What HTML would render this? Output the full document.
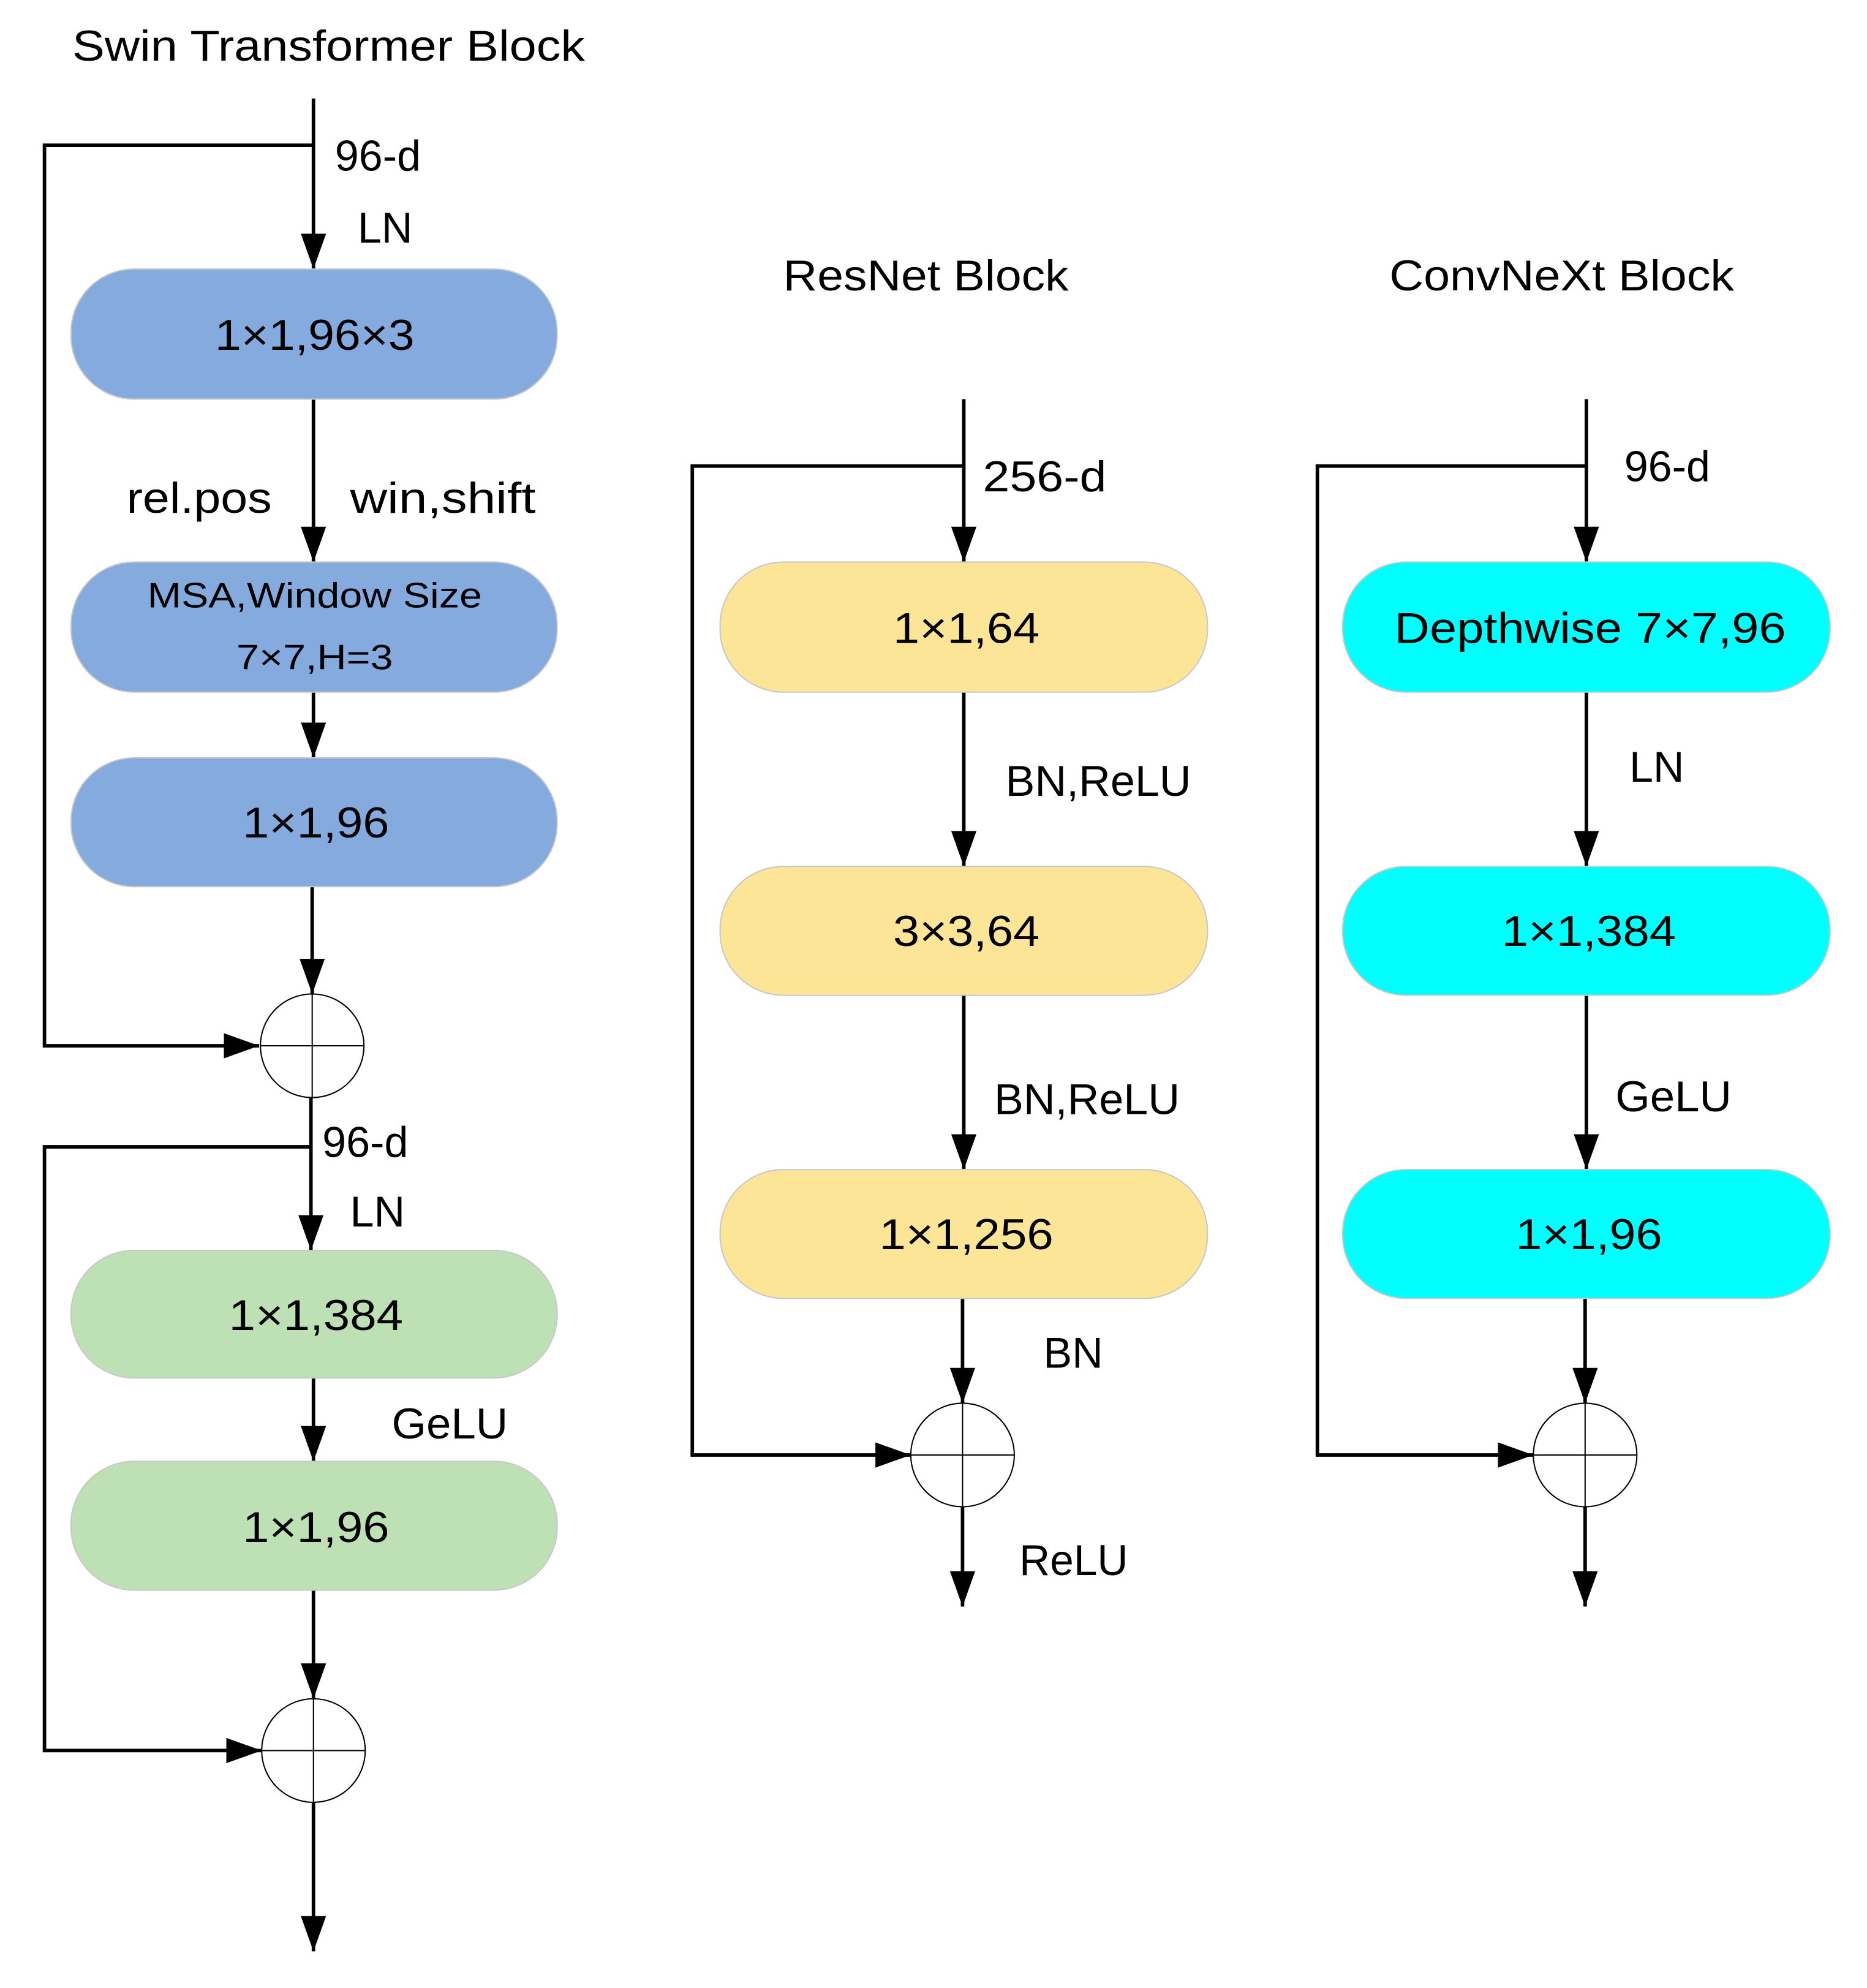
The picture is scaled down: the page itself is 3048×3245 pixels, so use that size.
<!DOCTYPE html>
<html><head><meta charset="utf-8"><style>
html,body{margin:0;padding:0;background:#fff;}
svg{display:block;}
text{font-family:"Liberation Sans",sans-serif;fill:#000;}
</style></head><body>
<svg width="3048" height="3245" viewBox="0 0 1478 1574" xmlns="http://www.w3.org/2000/svg">
<defs>
<marker id="a" markerWidth="28" markerHeight="20" refX="28" refY="10" orient="auto" markerUnits="userSpaceOnUse">
<path d="M0,0 L28,10 L0,20 Z" fill="#000"/></marker>
</defs>
<g stroke="#000" stroke-width="2.8" fill="none">
<line x1="248" y1="78" x2="248" y2="213" marker-end="url(#a)"/>
<polyline points="248,115 35,115 35,828 205,828" marker-end="url(#a)"/>
<line x1="248" y1="316" x2="248" y2="445" marker-end="url(#a)"/>
<line x1="248" y1="548" x2="248" y2="600" marker-end="url(#a)"/>
<line x1="247" y1="702" x2="247" y2="787" marker-end="url(#a)"/>
<line x1="246" y1="869" x2="246" y2="990" marker-end="url(#a)"/>
<polyline points="246,908 35,908 35,1386 207,1386" marker-end="url(#a)"/>
<line x1="248" y1="1091" x2="248" y2="1157" marker-end="url(#a)"/>
<line x1="248" y1="1259" x2="248" y2="1345" marker-end="url(#a)"/>
<line x1="248" y1="1427" x2="248" y2="1545" marker-end="url(#a)"/>
<line x1="763" y1="316" x2="763" y2="445" marker-end="url(#a)"/>
<polyline points="763,369 548,369 548,1152 721,1152" marker-end="url(#a)"/>
<line x1="763" y1="548" x2="763" y2="686" marker-end="url(#a)"/>
<line x1="763" y1="788" x2="763" y2="926" marker-end="url(#a)"/>
<line x1="762" y1="1028" x2="762" y2="1111" marker-end="url(#a)"/>
<line x1="762" y1="1193" x2="762" y2="1272" marker-end="url(#a)"/>
<line x1="1256" y1="316" x2="1256" y2="445" marker-end="url(#a)"/>
<polyline points="1256,369 1043,369 1043,1152 1214,1152" marker-end="url(#a)"/>
<line x1="1256" y1="548" x2="1256" y2="686" marker-end="url(#a)"/>
<line x1="1256" y1="788" x2="1256" y2="926" marker-end="url(#a)"/>
<line x1="1255" y1="1028" x2="1255" y2="1111" marker-end="url(#a)"/>
<line x1="1255" y1="1193" x2="1255" y2="1272" marker-end="url(#a)"/>
</g>
<g stroke="#000" stroke-width="1" fill="none">
<circle cx="247" cy="828" r="41"/><line x1="206" y1="828" x2="288" y2="828"/><line x1="247" y1="787" x2="247" y2="869"/>
<circle cx="248" cy="1386" r="41"/><line x1="207" y1="1386" x2="289" y2="1386"/><line x1="248" y1="1345" x2="248" y2="1427"/>
<circle cx="762" cy="1152" r="41"/><line x1="721" y1="1152" x2="803" y2="1152"/><line x1="762" y1="1111" x2="762" y2="1193"/>
<circle cx="1255" cy="1152" r="41"/><line x1="1214" y1="1152" x2="1296" y2="1152"/><line x1="1255" y1="1111" x2="1255" y2="1193"/>
</g>
<g stroke="#c8c8c8" stroke-width="1">
<rect x="56" y="213" width="385" height="103" rx="50" fill="#85AADD"/>
<rect x="56" y="445" width="385" height="103" rx="50" fill="#85AADD"/>
<rect x="56" y="600" width="385" height="102" rx="50" fill="#85AADD"/>
<rect x="56" y="990" width="385" height="101" rx="50" fill="#BDE1B4"/>
<rect x="56" y="1157" width="385" height="102" rx="50" fill="#BDE1B4"/>
<rect x="570" y="445" width="386" height="103" rx="50" fill="#FDE598"/>
<rect x="570" y="686" width="386" height="102" rx="50" fill="#FDE598"/>
<rect x="570" y="926" width="386" height="102" rx="50" fill="#FDE598"/>
<rect x="1063" y="445" width="386" height="103" rx="50" fill="#00FFFF"/>
<rect x="1063" y="686" width="386" height="102" rx="50" fill="#00FFFF"/>
<rect x="1063" y="926" width="386" height="102" rx="50" fill="#00FFFF"/>
</g>
<g font-size="34">
<text x="57" y="48" textLength="406" lengthAdjust="spacingAndGlyphs">Swin Transformer Block</text>
<text x="620" y="230" textLength="226" lengthAdjust="spacingAndGlyphs">ResNet Block</text>
<text x="1100" y="230" textLength="273" lengthAdjust="spacingAndGlyphs">ConvNeXt Block</text>
<text x="265" y="135">96-d</text>
<text x="283" y="192">LN</text>
<text x="100" y="406" textLength="115" lengthAdjust="spacingAndGlyphs">rel.pos</text>
<text x="277" y="406" textLength="147" lengthAdjust="spacingAndGlyphs">win,shift</text>
<text x="255" y="916">96-d</text>
<text x="277" y="971">LN</text>
<text x="310" y="1139" textLength="92" lengthAdjust="spacingAndGlyphs">GeLU</text>
<text x="778" y="389" textLength="98" lengthAdjust="spacingAndGlyphs">256-d</text>
<text x="796" y="630" textLength="147" lengthAdjust="spacingAndGlyphs">BN,ReLU</text>
<text x="787" y="882" textLength="147" lengthAdjust="spacingAndGlyphs">BN,ReLU</text>
<text x="826" y="1083">BN</text>
<text x="807" y="1247" textLength="86" lengthAdjust="spacingAndGlyphs">ReLU</text>
<text x="1286" y="381">96-d</text>
<text x="1290" y="619">LN</text>
<text x="1279" y="880" textLength="92" lengthAdjust="spacingAndGlyphs">GeLU</text>
</g>
<g font-size="34" text-anchor="middle">
<text x="249" y="277" textLength="158" lengthAdjust="spacingAndGlyphs">1×1,96×3</text>
<text x="249" y="481" font-size="28" textLength="265" lengthAdjust="spacingAndGlyphs">MSA,Window Size</text>
<text x="249" y="530" font-size="28" textLength="124" lengthAdjust="spacingAndGlyphs">7×7,H=3</text>
<text x="250" y="663" textLength="116" lengthAdjust="spacingAndGlyphs">1×1,96</text>
<text x="250" y="1053" textLength="138" lengthAdjust="spacingAndGlyphs">1×1,384</text>
<text x="250" y="1221" textLength="116" lengthAdjust="spacingAndGlyphs">1×1,96</text>
<text x="765" y="509" textLength="116" lengthAdjust="spacingAndGlyphs">1×1,64</text>
<text x="765" y="749" textLength="116" lengthAdjust="spacingAndGlyphs">3×3,64</text>
<text x="765" y="989" textLength="138" lengthAdjust="spacingAndGlyphs">1×1,256</text>
<text x="1259" y="509" textLength="310" lengthAdjust="spacingAndGlyphs">Depthwise 7×7,96</text>
<text x="1258" y="749" textLength="138" lengthAdjust="spacingAndGlyphs">1×1,384</text>
<text x="1258" y="989" textLength="116" lengthAdjust="spacingAndGlyphs">1×1,96</text>
</g>
</svg>
</body></html>
